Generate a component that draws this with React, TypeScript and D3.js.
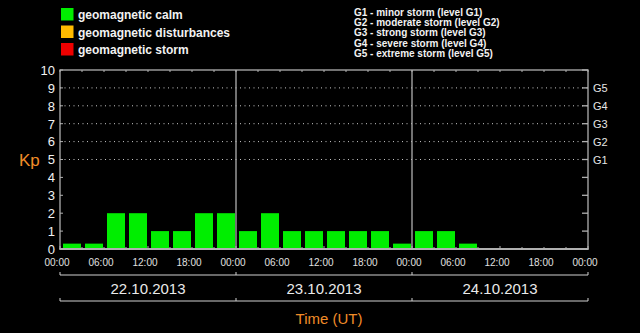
import React, { useEffect } from "react";
import * as d3 from "d3";

const dayLabels = ["22.10.2013", "23.10.2013", "24.10.2013"];
const kpValues = [0.3, 0.3, 2, 2, 1, 1, 2, 2, 1, 2, 1, 1, 1, 1, 1, 0.3, 1, 1, 0.3];
const yTicks = [0, 1, 2, 3, 4, 5, 6, 7, 8, 9, 10];
const gridKp = [5, 6, 7, 8, 9];
const gLabels = ["G1", "G2", "G3", "G4", "G5"];
const hourLabels = [0, 6, 12, 18, 24, 30, 36, 42, 48, 54, 60, 66, 72];
const minorHours = d3.range(0, 73, 3);
const legendItems = ["geomagnetic calm", "geomagnetic disturbances", "geomagnetic storm"];
const legendColors = ["#00ee00", "#ffbb00", "#ee0000"];
const stormLegend = [
  "G1 - minor storm (level G1)",
  "G2 - moderate storm (level G2)",
  "G3 - strong storm (level G3)",
  "G4 - severe storm (level G4)",
  "G5 - extreme storm (level G5)",
];

const W = 640;
const H = 333;
const FONT = "'Liberation Sans', Arial, sans-serif";

export default function App() {
  useEffect(() => {
    document.body.style.margin = "0";
    document.body.style.background = "#000";
  }, []);

  const x = d3.scaleLinear().domain([0, 72]).range([60, 588]);
  const y = d3.scaleLinear().domain([0, 10]).range([249, 70]);
  const slot = x(3) - x(0);
  const barColor = (v: number) => (v >= 5 ? legendColors[2] : v >= 4 ? legendColors[1] : legendColors[0]);
  const pad = (h: number) => String(h % 24 === 0 && h > 0 ? 0 : h % 24).padStart(2, "0") + ":00";

  return (
    <svg width={W} height={H} style={{ display: "block", background: "#000" }} fontFamily={FONT}>
      <rect x={0} y={0} width={W} height={H} fill="#000" />
      {/* legend left */}
      {legendItems.map((t, i) => (
        <g key={t}>
          <rect x={61} y={8 + i * 17.5} width={12.5} height={12.5} fill={legendColors[i]} />
          <text x={78} y={19 + i * 17.5} fill="#f2f2f2" fontSize={12} fontWeight="bold">{t}</text>
        </g>
      ))}
      {/* legend right */}
      {stormLegend.map((t, i) => (
        <text key={t} x={354} y={15.5 + i * 10.4} fill="#f2f2f2" fontSize={10} fontWeight="bold">{t}</text>
      ))}
      {/* grid dotted */}
      {gridKp.map((k) => (
        <line key={k} x1={x(0)} x2={x(72)} y1={y(k)} y2={y(k)} stroke="#c8c8c8" strokeDasharray="1,3.5" />
      ))}
      {/* bars */}
      {kpValues.map((v, i) => (
        <rect key={i} x={x(i * 3) + 3} y={y(v)} width={slot - 4} height={y(0) - y(v)} fill={barColor(v)} />
      ))}
      {/* day separators */}
      {[24, 48].map((h) => (
        <line key={h} x1={x(h)} x2={x(h)} y1={y(10)} y2={y(0)} stroke="#b0b0b0" strokeWidth={1.3} />
      ))}
      {/* frame */}
      <rect x={x(0)} y={y(10)} width={x(72) - x(0)} height={y(0) - y(10)} fill="none" stroke="#b0b0b0" strokeWidth={1.3} />
      <line x1={x(0) - 0.5} x2={x(72) + 0.5} y1={y(0)} y2={y(0)} stroke="#b0b0b0" strokeWidth={2} />
      {/* top & bottom minor ticks */}
      {minorHours.map((h) => (
        <g key={h}>
          <line x1={x(h)} x2={x(h)} y1={y(10)} y2={y(10) + 2} stroke="#b0b0b0" />
          <line x1={x(h)} x2={x(h)} y1={y(0)} y2={y(0) - (h % 12 === 0 ? 3 : 2)} stroke="#b0b0b0" />
        </g>
      ))}
      {/* left ticks & labels */}
      {yTicks.map((k) => (
        <g key={k}>
          <line x1={x(0)} x2={x(0) + 3} y1={y(k)} y2={y(k)} stroke="#b0b0b0" />
          <line x1={x(72) - 6} x2={x(72)} y1={y(k)} y2={y(k)} stroke="#b0b0b0" strokeWidth={1.3} />
          <text x={55} y={y(k) + 4.8} fill="#f2f2f2" fontSize={13} textAnchor="end">{k}</text>
        </g>
      ))}
      {/* right G labels */}
      {gLabels.map((g, i) => (
        <text key={g} x={593} y={y(gridKp[i]) + 4} fill="#e6e6e6" fontSize={11}>{g}</text>
      ))}
      {/* Kp axis label */}
      <text x={19} y={166} fill="#f08c28" fontSize={17}>Kp</text>
      {/* hour labels */}
      {hourLabels.map((h) => (
        <text key={h} x={x(h) - 3} y={266} fill="#e0e0e0" fontSize={10} textAnchor="middle">{pad(h)}</text>
      ))}
      {/* brackets */}
      {[275, 301].map((yy) => (
        <g key={yy}>
          <line x1={x(0)} x2={x(72)} y1={yy} y2={yy} stroke="#d0d0d0" />
          {[0, 24, 48, 72].map((h) => (
            <line key={h} x1={x(h)} x2={x(h)} y1={yy - 3} y2={yy} stroke="#d0d0d0" />
          ))}
        </g>
      ))}
      {dayLabels.map((d, i) => (
        <text key={d} x={x(i * 24 + 12)} y={294} fill="#eaeaea" fontSize={15} textAnchor="middle">{d}</text>
      ))}
      <text x={329} y={324} fill="#f08c28" fontSize={15} textAnchor="middle">Time (UT)</text>
    </svg>
  );
}
